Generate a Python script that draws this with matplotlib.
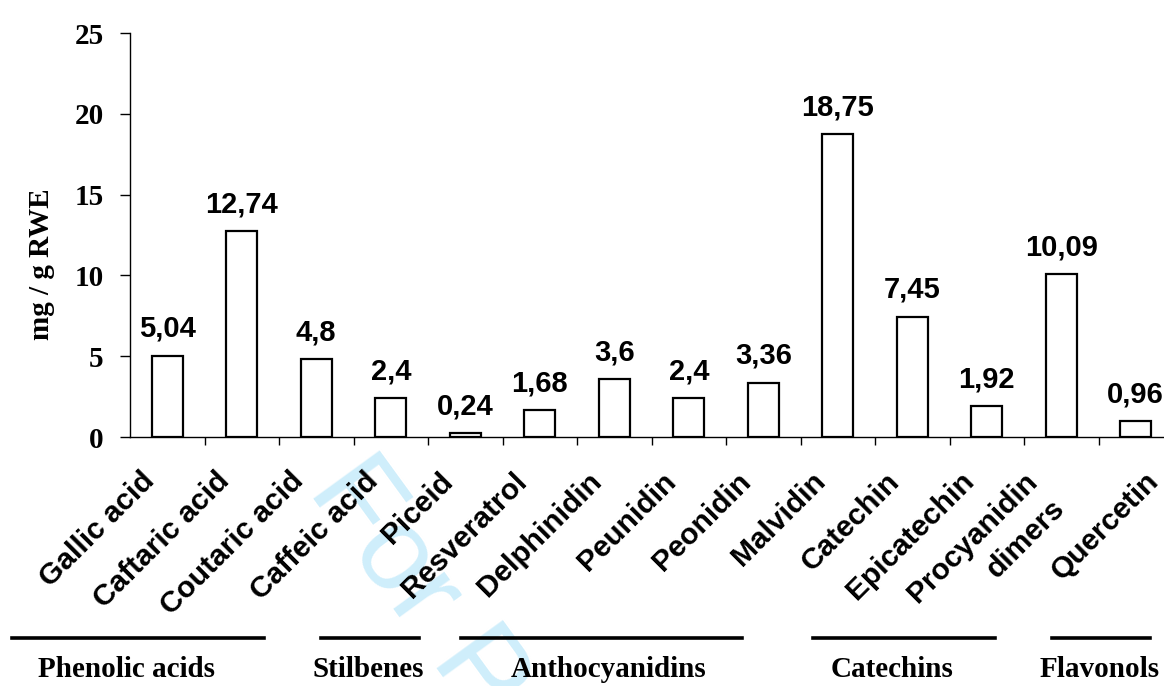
import numpy as np
import matplotlib.pyplot as plt
from matplotlib.transforms import ScaledTranslation

# data
compounds = ["Gallic acid", "Caftaric acid", "Coutaric acid", "Caffeic acid",
             "Piceid", "Resveratrol", "Delphinidin", "Peunidin", "Peonidin",
             "Malvidin", "Catechin", "Epicatechin", "Procyanidin\ndimers",
             "Quercetin"]
values = [5.04, 12.74, 4.8, 2.4, 0.24, 1.68, 3.6, 2.4, 3.36, 18.75,
          7.45, 1.92, 10.09, 0.96]
value_text = ["5,04", "12,74", "4,8", "2,4", "0,24", "1,68", "3,6", "2,4",
              "3,36", "18,75", "7,45", "1,92", "10,09", "0,96"]

groups = ["Phenolic acids", "Stilbenes", "Anthocyanidins", "Catechins",
          "Flavonols"]
# span of the underline of each group and its name, in category units
group_start = [-2.09, 2.06, 3.94, 8.67, 11.88]
group_end = [1.30, 3.38, 7.71, 11.11, 13.19]
group_text_x = [-0.55, 2.70, 5.93, 9.73, 12.52]

W, H = 1164, 686
fig = plt.figure(figsize=(W / 100, H / 100), dpi=100)
ax = fig.add_axes([130 / W, 1 - 437 / H, 1043 / W, 404 / H])
ax.patch.set_alpha(0)

sans = ["Liberation Sans", "DejaVu Sans"]
serif = ["Liberation Serif", "DejaVu Serif"]

x = np.arange(len(values))
ax.bar(x, values, width=0.41, facecolor="white", edgecolor="black",
       linewidth=1.6, zorder=2)

for xi, v, t in zip(x, values, value_text):
    ax.annotate(t, xy=(xi, v), xytext=(0, 13.5), textcoords="offset points",
                ha="center", va="baseline", fontsize=21, fontweight="bold",
                family=sans)

ax.set_xlim(-0.5, 13.5)
ax.set_ylim(0, 25)
ax.set_yticks([0, 5, 10, 15, 20, 25])
ax.set_yticklabels(["0", "5", "10", "15", "20", "25"], family=serif,
                   fontweight="bold", fontsize=21)
ax.tick_params(axis="y", length=7, width=1, pad=12)

ax.set_xticks(x)
ax.set_xticklabels([])
ax.tick_params(axis="x", which="major", length=0)
ax.set_xticks(np.arange(0.5, 13.5, 1), minor=True)
ax.tick_params(axis="x", which="minor", length=6, width=1, direction="out")

for side in ["top", "right"]:
    ax.spines[side].set_visible(False)
ax.spines["left"].set_linewidth(1)
ax.spines["bottom"].set_linewidth(1)

ax.set_ylabel("mg / g RWE", family=serif, fontweight="bold", fontsize=21)
ax.yaxis.set_label_coords(-0.072, 0.428)

# rotated category labels, nudged like the original layout
shift_px = [-27] * len(compounds)
shift_px[12] = -38
shift_px[13] = 9
trans_x = ax.get_xaxis_transform()
for xi, name, s in zip(x, compounds, shift_px):
    ax.text(xi, 0, name, transform=trans_x + ScaledTranslation(
                s / 100, -30 / 100, fig.dpi_scale_trans),
            rotation=45, rotation_mode="anchor", ha="right", va="top",
            multialignment="right", linespacing=1.5,
            fontsize=21.5, fontweight="bold", family=sans, clip_on=False)

# group underlines and names below the axis
line_y = 1 - 638 / H
label_y = 1 - 677 / H
for name, a, b, tx in zip(groups, group_start, group_end, group_text_x):
    xa = ax.transData.transform((a, 0))[0] / W
    xb = ax.transData.transform((b, 0))[0] / W
    fig.add_artist(plt.Line2D([xa, xb], [line_y, line_y], color="black",
                              linewidth=2.6))
    xt = ax.transData.transform((tx, 0))[0] / W
    fig.text(xt, label_y, name, ha="center", va="baseline",
             family=serif, fontweight="bold", fontsize=21)

# faint review watermark crossing the labels
fig.text(307 / W, 1 - 490 / H, "For Peer Review", rotation=-54,
         rotation_mode="anchor", ha="left", va="baseline", fontsize=85,
         color="#cfeefb", family=sans, zorder=-5)

fig.savefig("out.png", dpi=100, facecolor="white")
